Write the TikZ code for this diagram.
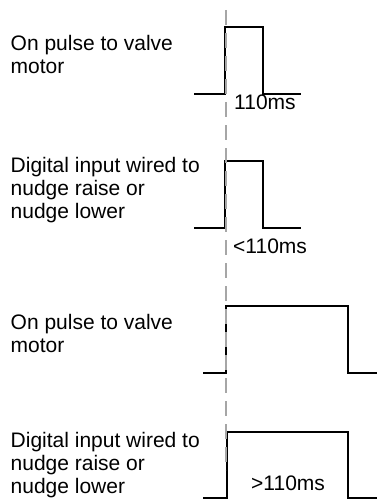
\documentclass[tikz,border=0pt]{standalone}
\usepackage{fontspec}
\setmainfont{Liberation Sans}
\begin{document}
\begin{tikzpicture}[x=1pt,y=-1pt,
  wave/.style={line width=1.6pt, black, line join=miter},
  guide/.style={line width=1.8pt, black!35, dash pattern=on 15pt off 8pt},
  lbl/.style={anchor=base west, inner sep=0pt, font=\fontsize{21}{23}\selectfont},
  txt/.style={anchor=north west, inner sep=0pt, align=left, font=\fontsize{21}{23}\selectfont}]
\useasboundingbox (0,0) rectangle (377,500);
% left descriptions
\node[txt] (t1) at (10.5,34.7) {On pulse to valve\\motor};
\node[txt] (t2) at (10.5,156.7) {Digital input wired to\\nudge raise or\\nudge lower};
\node[txt] (t3) at (10.5,313.7) {On pulse to valve\\motor};
\node[txt] (t4) at (10.5,431.7) {Digital input wired to\\nudge raise or\\nudge lower};
% waveforms
\draw[wave] (194,94) -- (225,94) -- (225,27) -- (263,27) -- (263,94) -- (301,94);
\draw[wave] (194,228) -- (225,228) -- (225,161) -- (263,161) -- (263,228) -- (301,228);
\draw[wave] (203,373) -- (226,373) -- (226,306) -- (348,306) -- (348,373) -- (377,373);
\draw[wave] (203,498) -- (227,498) -- (227,432) -- (348,432) -- (348,498) -- (377,498);
% reference line
\draw[guide] (226,10) -- (226,470);
% duration labels
\node[lbl] (d1) at (234,110) {110ms};
\node[lbl] (d2) at (233,253) {<110ms};
\node[lbl] (d4) at (251,490) {>110ms};
\end{tikzpicture}
\end{document}
